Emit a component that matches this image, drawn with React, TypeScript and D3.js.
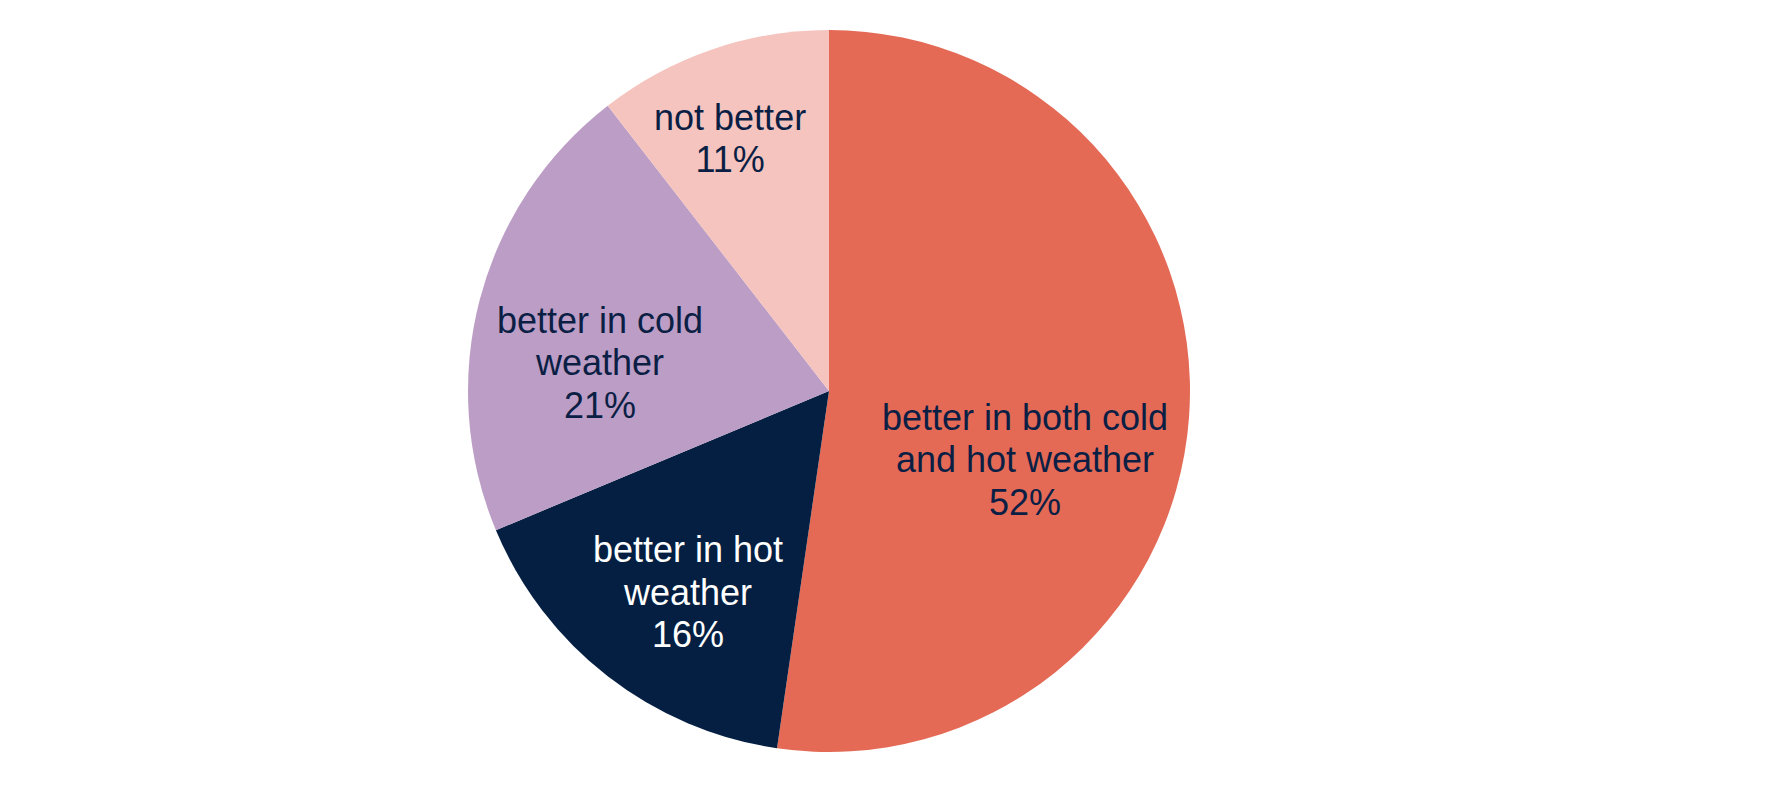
import * as d3 from "d3";
import React, { useEffect, useRef } from "react";

// slice data, clockwise from 12 o'clock
const categories = [
  ["better in both cold", "and hot weather"],
  ["better in hot", "weather"],
  ["better in cold", "weather"],
  ["not better"],
];
const shares = [52.3, 16.4, 20.8, 10.5];
const shareLabels = ["52%", "16%", "21%", "11%"];

const sliceColors = ["#E46A56", "#041F42", "#BC9DC5", "#F5C4BE"];
const labelColors = ["#0B1F45", "#FFFFFF", "#0B1F45", "#0B1F45"];
// label nudges: degrees off the slice middle, and radius fraction
const labelAngleOffset = [15.1, -2.8, -7.7, -2.5];
const labelRadius = [0.575, 0.681, 0.639, 0.751];

const PieChart: React.FC = () => {
  const ref = useRef<SVGSVGElement>(null);

  useEffect(() => {
    if (!ref.current) return;
    const svg = d3.select(ref.current);
    svg.selectAll("*").remove();

    const cx = 829;
    const cy = 391;
    const radius = 361;
    const fontSize = 36;
    const lineH = 42.5;

    const pie = d3
      .pie<number>()
      .sort(null)
      .value((d) => d);
    const arcs = pie(shares);

    const arc = d3
      .arc<d3.PieArcDatum<number>>()
      .innerRadius(0)
      .outerRadius(radius);

    const g = svg.append("g").attr("transform", `translate(${cx},${cy})`);

    g.selectAll("path")
      .data(arcs)
      .enter()
      .append("path")
      .attr("d", arc)
      .attr("fill", (d, i) => sliceColors[i]);

    // labels
    arcs.forEach((a, i) => {
      const mid = (a.startAngle + a.endAngle) / 2 + (labelAngleOffset[i] * Math.PI) / 180;
      const r = radius * labelRadius[i];
      const x = Math.sin(mid) * r;
      const y = -Math.cos(mid) * r;
      const lines = [...categories[i], shareLabels[i]];
      const text = g
        .append("text")
        .attr("text-anchor", "middle")
        .attr("font-family", "'Liberation Sans', Arial, sans-serif")
        .attr("font-size", fontSize)
        .attr("fill", labelColors[i]);
      lines.forEach((line, j) => {
        text
          .append("tspan")
          .attr("x", x)
          .attr("y", y + (j - (lines.length - 1) / 2) * lineH + fontSize * 0.35)
          .text(line);
      });
    });
  }, []);

  return (
    <svg
      ref={ref}
      width={1774}
      height={811}
      style={{ position: "absolute", left: 0, top: 0, background: "#fff" }}
    ></svg>
  );
};

export default function App() {
  return <PieChart />;
}
